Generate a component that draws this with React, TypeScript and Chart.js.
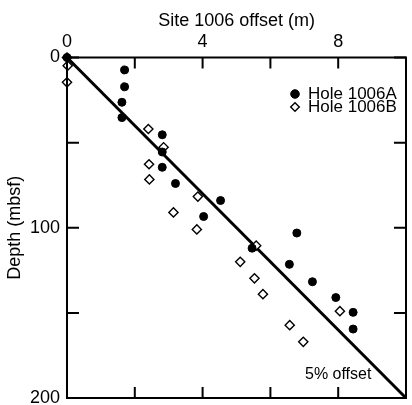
import React, { useEffect, useRef } from 'react';
import { Chart, registerables } from 'chart.js';

Chart.register(...registerables);

const FONT = "'Liberation Sans', Arial, Helvetica, sans-serif";

// Hole 1006A (filled circles): offset (m) and depth (mbsf)
const holeAOffset = [0, 1.7, 1.7, 1.62, 1.62, 2.81, 2.81, 2.81, 3.2, 4.53, 4.03, 6.78, 5.46, 6.56, 7.24, 7.93, 8.44, 8.44];
const holeADepth = [0, 7.3, 17.2, 26.3, 35.3, 45.4, 55.5, 64.5, 74, 84, 93.4, 103.1, 112, 121.5, 131.7, 141, 149.7, 159.5];

// Hole 1006B (open diamonds)
const holeBOffset = [0, 0.02, 0, 2.4, 2.85, 2.42, 2.43, 3.86, 3.14, 3.83, 5.58, 5.11, 5.53, 5.78, 8.05, 6.57, 6.97];
const holeBDepth = [0, 4.8, 14.6, 42, 52.7, 62.7, 71.6, 81.7, 91, 101, 110.5, 120, 129.7, 139, 149, 157.2, 167];

// 5% offset reference line
const lineOffset = [0, 10];
const lineDepth = [0, 200];

// Axes
const xTickValues = [0, 2, 4, 6, 8, 10];
const xTickLabels = [0, 4, 8];
const yTickValues = [0, 50, 100, 150, 200];
const yTickLabels = [0, 100, 200];

const seriesNames = ['Hole 1006A', 'Hole 1006B'];
const annotationText = '5% offset';
const annotationAt = { x: 8, y: 186.5 };

const toPoints = (xs: number[], ys: number[]) => xs.map((x, i) => ({ x, y: ys[i] }));

const decorPlugin = {
  id: 'decor',
  afterDraw(chart: any) {
    const { ctx, chartArea } = chart;
    const xs = chart.scales.x;
    const ys = chart.scales.y;
    const { left, right, top, bottom } = chartArea;
    ctx.save();
    ctx.strokeStyle = '#000';
    ctx.lineWidth = 2;
    ctx.lineCap = 'butt';
    // frame
    ctx.strokeRect(left, top, right - left, bottom - top);
    // inward ticks
    ctx.beginPath();
    xTickValues.forEach((v) => {
      const px = xs.getPixelForValue(v);
      ctx.moveTo(px, top);
      ctx.lineTo(px, top + 11);
      ctx.moveTo(px, bottom);
      ctx.lineTo(px, bottom - 11);
    });
    yTickValues.forEach((v) => {
      const py = ys.getPixelForValue(v);
      ctx.moveTo(left, py);
      ctx.lineTo(left + 12, py);
      ctx.moveTo(right, py);
      ctx.lineTo(right - 12, py);
    });
    ctx.stroke();

    // annotation
    ctx.fillStyle = '#000';
    ctx.font = `16px ${FONT}`;
    ctx.textAlign = 'center';
    ctx.textBaseline = 'middle';
    ctx.fillText(annotationText, xs.getPixelForValue(annotationAt.x), ys.getPixelForValue(annotationAt.y));

    // legend
    const lx = right - 111;
    const ly0 = top + 36.5;
    const gap = 13;
    ctx.font = `17px ${FONT}`;
    ctx.textAlign = 'left';
    seriesNames.forEach((name, i) => {
      const ds = chart.data.datasets[i];
      const cy = ly0 + i * gap;
      ctx.beginPath();
      if (ds.pointStyle === 'rectRot') {
        const r = 4.3;
        ctx.moveTo(lx - r, cy);
        ctx.lineTo(lx, cy - r);
        ctx.lineTo(lx + r, cy);
        ctx.lineTo(lx, cy + r);
        ctx.closePath();
      } else {
        ctx.arc(lx, cy, 4.3, 0, Math.PI * 2);
      }
      ctx.fillStyle = ds.pointBackgroundColor;
      ctx.fill();
      ctx.lineWidth = ds.pointBorderWidth;
      ctx.strokeStyle = ds.pointBorderColor;
      ctx.stroke();
      ctx.fillStyle = '#000';
      ctx.fillText(name, lx + 13, cy + 0.5);
    });
    ctx.restore();
  },
};

export default function App() {
  const canvasRef = useRef<HTMLCanvasElement | null>(null);

  useEffect(() => {
    const canvas = canvasRef.current;
    if (!canvas) return;
    const chart = new Chart(canvas, {
      type: 'scatter',
      data: {
        datasets: [
          {
            label: seriesNames[0],
            data: toPoints(holeAOffset, holeADepth),
            pointStyle: 'circle',
            pointRadius: 4,
            pointBackgroundColor: '#000',
            pointBorderColor: '#000',
            pointBorderWidth: 1,
            order: 0,
            clip: false,
          } as any,
          {
            label: seriesNames[1],
            data: toPoints(holeBOffset, holeBDepth),
            pointStyle: 'rectRot',
            pointRadius: 4.6,
            pointBackgroundColor: '#fff',
            pointBorderColor: '#000',
            pointBorderWidth: 1.4,
            order: 1,
            clip: false,
          } as any,
          {
            label: annotationText,
            data: toPoints(lineOffset, lineDepth),
            showLine: true,
            borderColor: '#000',
            borderWidth: 3,
            pointRadius: 0,
            order: 2,
            clip: false,
          } as any,
        ],
      },
      options: {
        animation: false,
        responsive: true,
        maintainAspectRatio: false,
        layout: { padding: { left: 0, top: 0, right: 2, bottom: 7 } },
        plugins: {
          legend: { display: false },
          tooltip: { enabled: false },
        },
        scales: {
          x: {
            type: 'linear',
            position: 'top',
            min: 0,
            max: 10,
            afterBuildTicks: (s: any) => {
              s.ticks = xTickValues.map((v) => ({ value: v }));
            },
            afterFit: (s: any) => {
              s.height = 57.5;
              s.paddingLeft = 0;
              s.paddingRight = 0;
            },
            ticks: {
              autoSkip: false,
              maxRotation: 0,
              padding: 5,
              color: '#000',
              font: { family: FONT, size: 18 },
              callback: (v: any) => (xTickLabels.includes(Number(v)) ? String(v) : ''),
            },
            grid: { display: false, drawTicks: false },
            border: { display: false },
            title: {
              display: true,
              text: 'Site 1006 offset (m)',
              color: '#000',
              font: { family: FONT, size: 18 },
              padding: { top: 10, bottom: 0 },
            },
          },
          y: {
            type: 'linear',
            reverse: true,
            min: 0,
            max: 200,
            afterBuildTicks: (s: any) => {
              s.ticks = yTickValues.map((v) => ({ value: v }));
            },
            afterFit: (s: any) => {
              s.width = 67;
              s.paddingTop = 0;
              s.paddingBottom = 0;
            },
            ticks: {
              autoSkip: false,
              padding: 7,
              color: '#000',
              font: { family: FONT, size: 18 },
              callback: (v: any) => (yTickLabels.includes(Number(v)) ? String(v) : ''),
            },
            grid: { display: false, drawTicks: false },
            border: { display: false },
            title: {
              display: true,
              text: 'Depth (mbsf)',
              color: '#000',
              font: { family: FONT, size: 18 },
              padding: { top: 4.5, bottom: 0 },
            },
          },
        },
      } as any,
      plugins: [decorPlugin],
    });
    return () => chart.destroy();
  }, []);

  return (
    <div style={{ position: 'fixed', left: 0, top: 0, width: 412, height: 405, background: '#fff' }}>
      <canvas ref={canvasRef} />
    </div>
  );
}
